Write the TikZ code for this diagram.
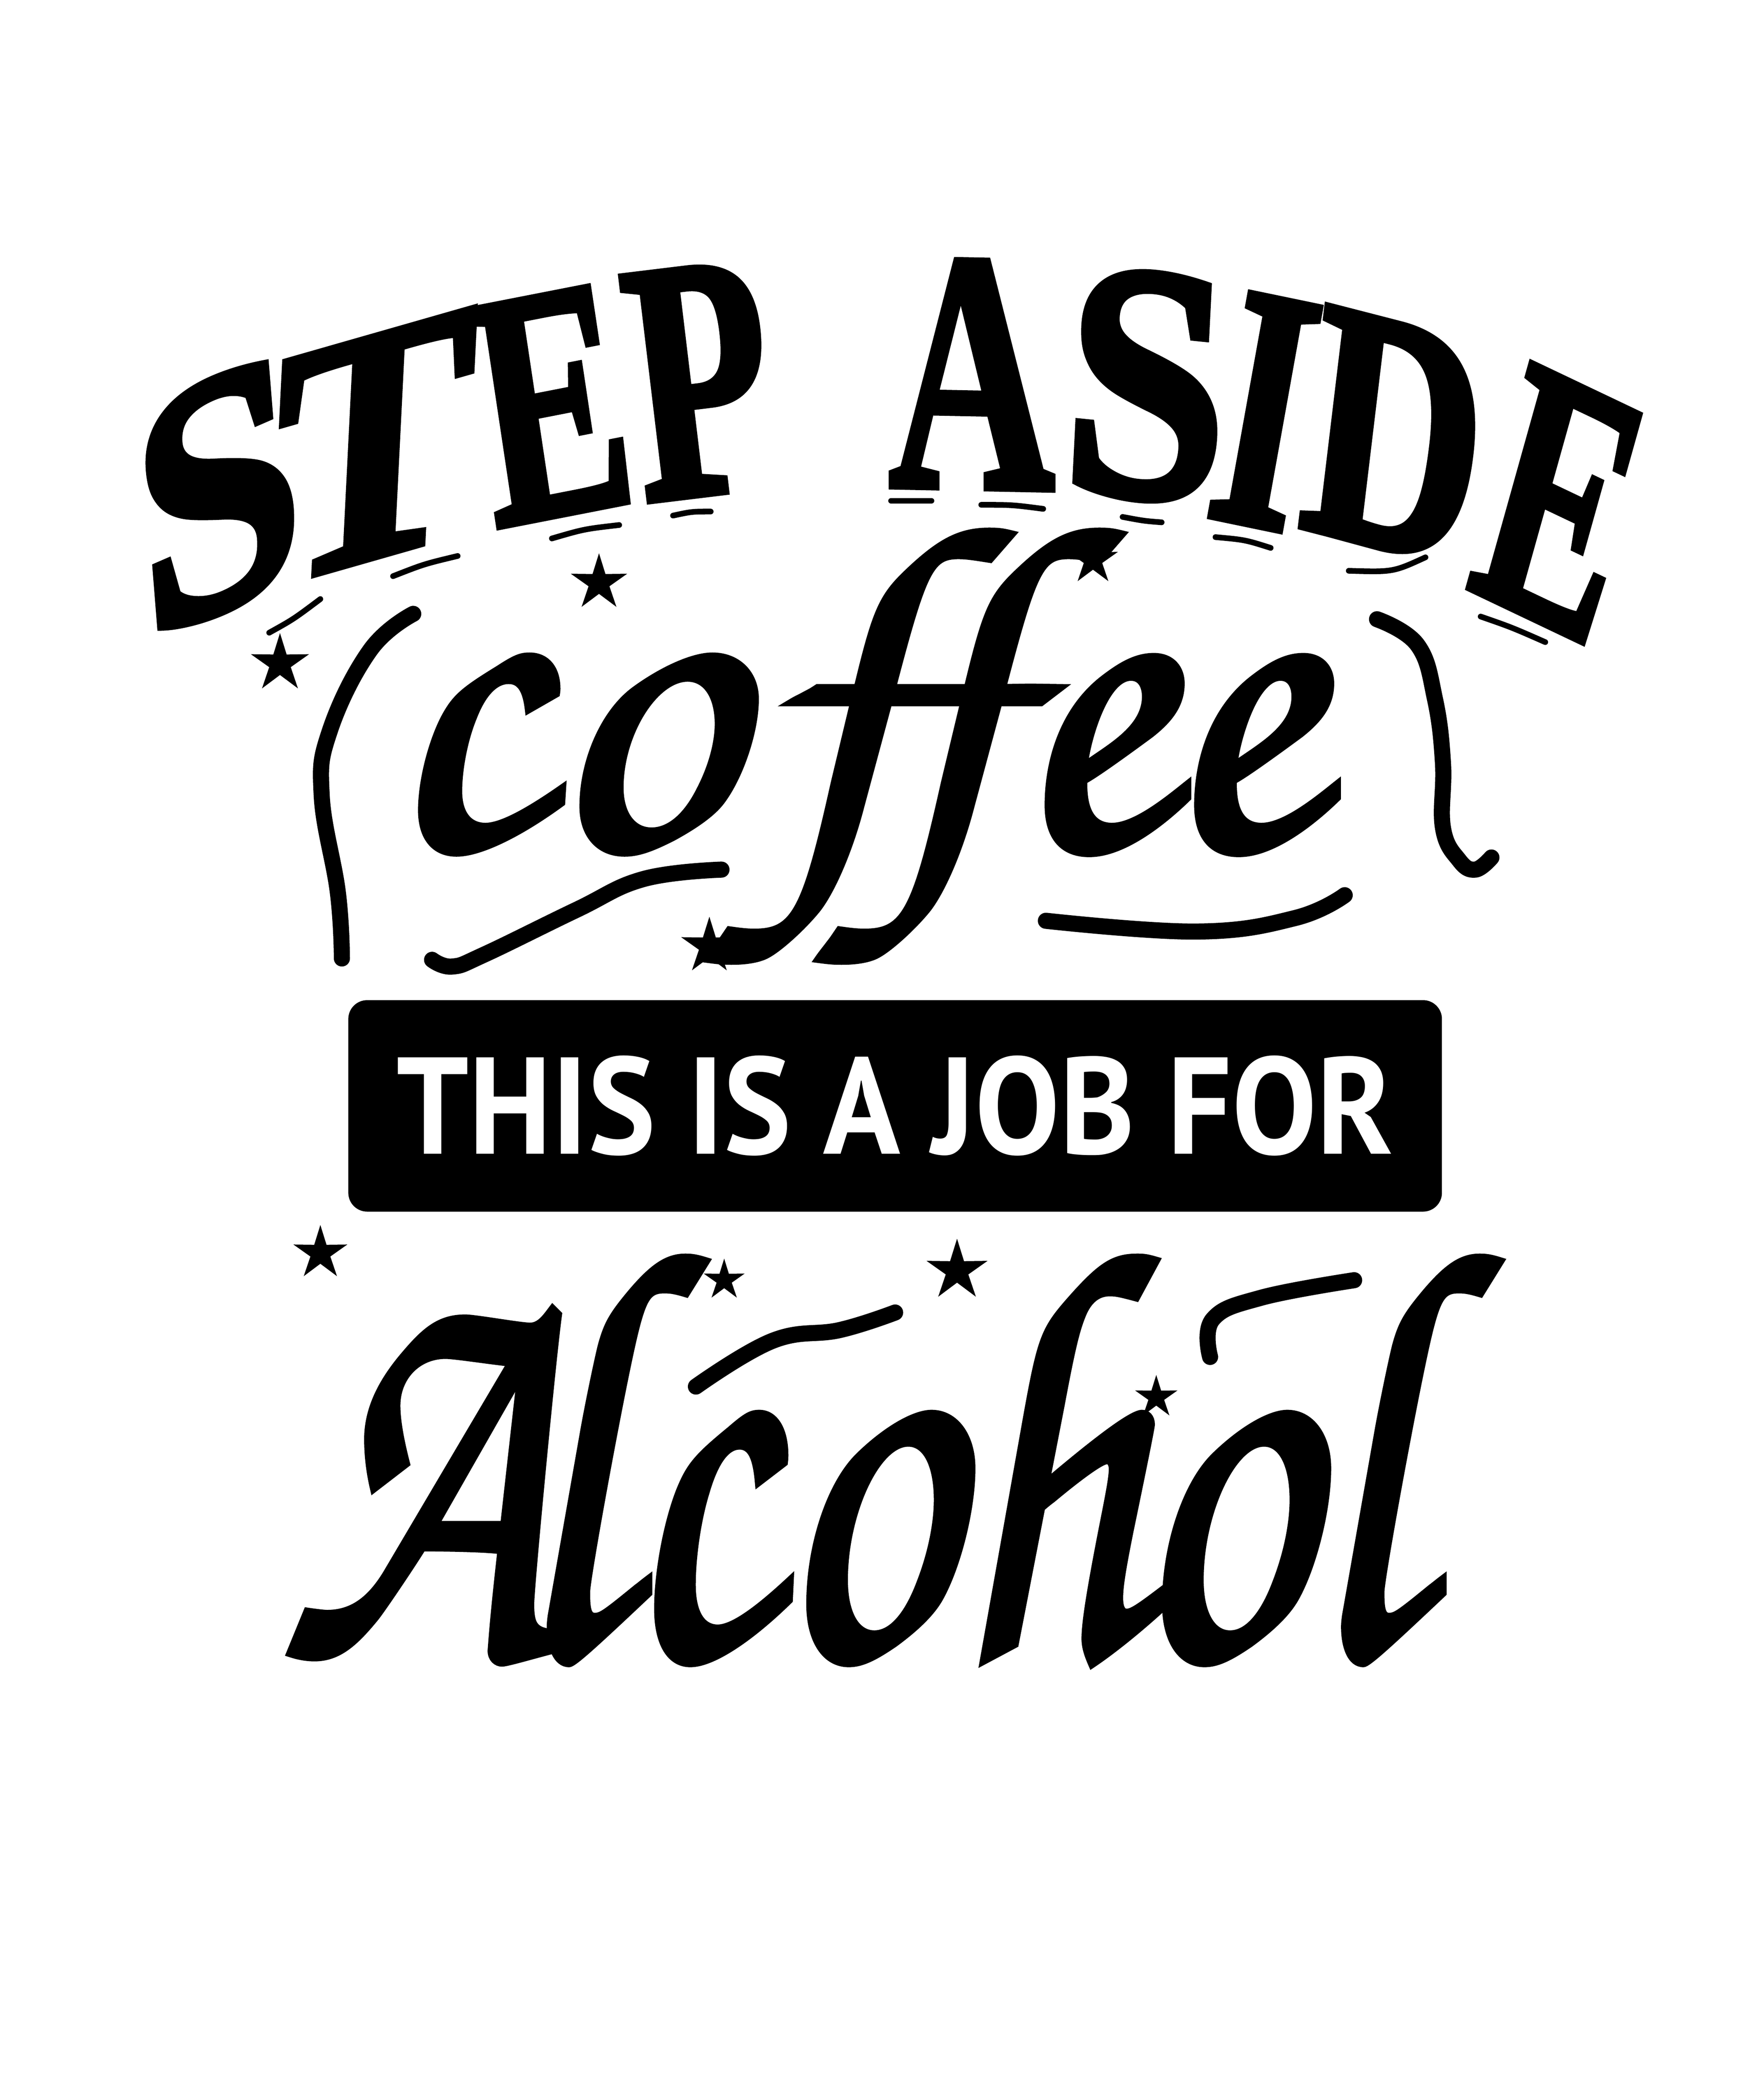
\documentclass[tikz,border=0pt]{standalone}
\usepackage{fontspec}
\usetikzlibrary{shapes.geometric}
\newfontfamily\chorus[FakeBold=1.6]{TeX Gyre Chorus}
\newfontfamily\headfont[FakeBold=2.2]{Liberation Serif Bold}
\newfontfamily\boxfont{PT Sans}
\newlength\alw
\newlength\cfw
\tikzset{
  stepletter/.style={inner sep=0pt, outer sep=0pt},
  swash/.style={line width=3.4pt, line cap=round, line join=round},
  dashline/.style={line width=1.2pt, line cap=round},
  starnode/.style={star, star points=5, star point ratio=2.7, fill=black, draw=none, inner sep=0pt}
}
\begin{document}
\settowidth\alw{\chorus Alcohol}
\settowidth\cfw{\chorus coffee}
\begin{tikzpicture}[x=0.01cm,y=-0.01cm]
\fill[white] (0,0) rectangle (1300,1560);
\useasboundingbox (0,0) rectangle (1300,1560);

% STEP ASIDE
\node[stepletter, xslant=-0.08, yslant=0.42] (s1) at (162,368) {\resizebox*{1.25cm}{1.7cm}{\headfont S}};
\node[stepletter, xslant=0.05, yslant=0.29] (t1) at (278,332) {\resizebox*{1.45cm}{1.66cm}{\headfont T}};
\node[stepletter, xslant=-0.15, yslant=0.19] (e1) at (410,301) {\resizebox*{1.12cm}{1.6cm}{\headfont E}};
\node[stepletter, xslant=-0.12, yslant=0.12] (p1) at (520,283) {\resizebox*{1.05cm}{1.66cm}{\headfont P}};
\node[stepletter, yslant=-0.02] (a1) at (722,278) {\resizebox*{1.23cm}{1.68cm}{\headfont A}};
\node[stepletter, xslant=0.05, yslant=-0.1] (s2) at (852,287) {\resizebox*{1.22cm}{1.68cm}{\headfont S}};
\node[stepletter, xslant=0.18, yslant=-0.2] (i1) at (940,306) {\resizebox*{0.66cm}{1.65cm}{\headfont I}};
\node[stepletter, xslant=0.12, yslant=-0.25] (d1) at (1037,325) {\resizebox*{1.32cm}{1.64cm}{\headfont D}};
\node[stepletter, xslant=0.28, yslant=-0.42] (e2) at (1160,375) {\resizebox*{1.1cm}{1.66cm}{\headfont E}};

% little dashes under the letters
\draw[dashline] (200,470) .. controls (218,460) .. (238,445);
\draw[dashline] (292,428) .. controls (315,419) .. (340,413);
\draw[dashline] (410,400) .. controls (434,393) .. (460,390);
\draw[dashline] (500,383) .. controls (514,380) .. (528,380);
\draw[dashline] (662,372) -- (692,372);
\draw[dashline] (729,375) .. controls (752,375) .. (775,378);
\draw[dashline] (834,384) .. controls (850,387) .. (863,388);
\draw[dashline] (903,399) .. controls (925,401) .. (944,407);
\draw[dashline] (1002,424) .. controls (1035,425) .. (1059,414);
\draw[dashline] (1100,458) .. controls (1123,466) .. (1148,477);

% stars
\node[starnode, minimum size=0.454cm] (st1) at (208,493) {};
\node[starnode, minimum size=0.44cm] (st2) at (445,433) {};
\node[starnode, minimum size=0.388cm] (st3) at (812,416) {};
\node[starnode, minimum size=0.44cm] (st4) at (527,703) {};
\node[starnode, minimum size=0.42cm] (st5) at (238,931) {};
\node[starnode, minimum size=0.32cm] (st6) at (538,951) {};
\node[starnode, minimum size=0.476cm] (st7) at (711,944) {};
\node[starnode, minimum size=0.332cm] (st8) at (859,1038) {};

% coffee
\node[inner sep=0pt, anchor=north west] (coffee) at (282,394) {\resizebox*{6.95cm}{3.19cm}{\chorus co\kern0.025\cfw ff\kern-0.012\cfw e\kern-0.013\cfw e}};
\draw[swash] plot[smooth, tension=0.7] coordinates {(307,456) (275,483) (245,543) (239,591) (251,663) (254,712)};
\draw[swash] plot[smooth, tension=0.7] coordinates {(1023,460) (1053,479) (1066,519) (1072,567) (1072,615) (1084,639) (1096,646) (1108,637)};
\draw[swash] plot[smooth, tension=0.7] coordinates {(536,646) (478,653) (428,676) (360,709) (336,718) (321,713)};
\draw[swash] plot[smooth, tension=0.7] coordinates {(777,684) (889,692) (962,682) (999,665)};

% black banner
\node[fill=black, rounded corners=0.14cm, minimum width=8.12cm, minimum height=1.57cm, inner sep=0pt, text=white] (banner) at (665,821.5) {\resizebox{7.4cm}{0.73cm}{\boxfont\bfseries THIS IS A JOB FOR}};

% Alcohol
\node[inner sep=0pt, anchor=north west] (alcohol) at (208,934) {\resizebox*{8.4cm}{3.01cm}{\chorus A\kern-0.0393\alw lcoh\kern-0.0169\alw ol}};
\draw[swash] plot[smooth, tension=0.7] coordinates {(517,1030) (574,996) (624,988) (665,975)};
\draw[swash] plot[smooth, tension=0.7] coordinates {(899,1008) (901,980) (937,964) (1006,951)};
\end{tikzpicture}
\end{document}
